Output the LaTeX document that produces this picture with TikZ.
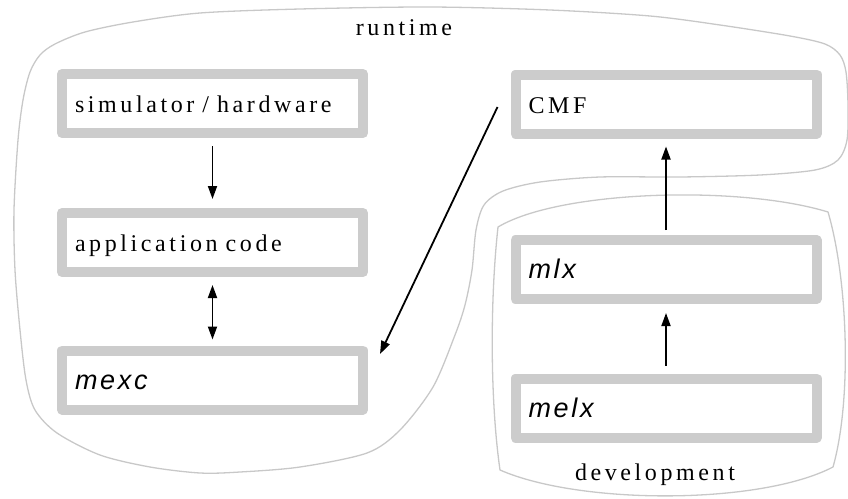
\documentclass[tikz,border=0pt]{standalone}
\usepackage{fontspec}
\setmainfont{Liberation Serif}
\newfontfamily\spacedserif[LetterSpace=15]{Liberation Serif}
\newfontfamily\spacedsans[LetterSpace=10]{Liberation Sans}
\usetikzlibrary{arrows.meta,calc}
\definecolor{boxgray}{RGB}{204,204,204}
\definecolor{zonegray}{RGB}{200,200,200}
\newcommand{\serifl}{\fontsize{24}{28}\selectfont\spacedserif\spaceskip=9.5pt plus 2pt minus 1pt\relax}
\newcommand{\sansl}{\fontsize{27}{31}\selectfont\spacedsans\itshape}
\begin{document}
\begin{tikzpicture}[x=1pt,y=-1pt,
  unitbox/.style={draw=boxgray, line width=10pt, fill=white, line join=round,
    minimum height=59pt, text width=275pt, inner xsep=13pt, inner ysep=0pt,
    align=left, text height=20pt, text depth=2pt, font=\serifl},
  zone/.style={draw=zonegray, line width=1.3pt, line join=round},
  flow/.style={-{Triangle[length=13pt,width=9pt]}, line width=1.8pt},
  flowboth/.style={{Triangle[length=13pt,width=9pt]}-{Triangle[length=13pt,width=9pt]}, line width=1.8pt}]
\useasboundingbox (0,0) rectangle (848,498);

% runtime zone
\draw[zone] plot[smooth cycle, tension=0.5] coordinates {
  (430,7) (550,10) (650,16) (720,25) (790,36) (825,44) (840,55) (846,72)
  (848,105) (847,140) (838,160) (815,170) (760,175) (680,177) (600,177)
  (540,182) (503,191) (484,205) (476,230) (472,270) (465,305) (455,335)
  (433,387) (400,430) (367,453) (300,467) (240,472) (200,473) (150,467)
  (100,455) (57,433) (35,410) (26,380) (20,330) (15,270) (14,210) (18,140)
  (23,100) (30,72) (40,55) (55,44) (85,32) (133,22) (200,13) (300,9)};

% development zone
\draw[zone] (498,227) .. controls (560,190) and (740,185) .. (828,212)
  .. controls (848,280) and (852,400) .. (833,467)
  .. controls (760,505) and (580,505) .. (500,470)
  .. controls (490,400) and (490,300) .. (498,227) -- cycle;

% units
\node[unitbox] (sim) at (212.5,103.5) {simulator / hardware};
\node[unitbox] (app) at (212.5,242.5) {application code};
\node[unitbox, font=\sansl] (mexc) at (212.5,380) {mexc};
\node[unitbox] (cmf) at (666,104) {CMF};
\node[unitbox, font=\sansl] (mlx) at (666,269.5) {mlx};
\node[unitbox, font=\sansl] (melx) at (666,408) {melx};

% zone labels
\node[font=\serifl, anchor=base, inner sep=0pt] (rtlabel) at (404,35) {runtime};
\node[font=\serifl, anchor=base, inner sep=0pt] (devlabel) at (655,480) {development};

% connectors
\draw[flow, shorten <=8pt, shorten >=9pt] (sim.south) -- (app.north);
\draw[flowboth, shorten <=8pt, shorten >=6pt] (app.south) -- (mexc.north);
\draw[flow] ($(cmf.west)+(-13,3)$) -- ($(mexc.east)+(12,-26)$);
\draw[flow, shorten <=5pt, shorten >=8pt] (mlx.north) -- (cmf.south);
\draw[flow, shorten <=8pt, shorten >=9pt] (melx.north) -- (mlx.south);
\end{tikzpicture}
\end{document}
